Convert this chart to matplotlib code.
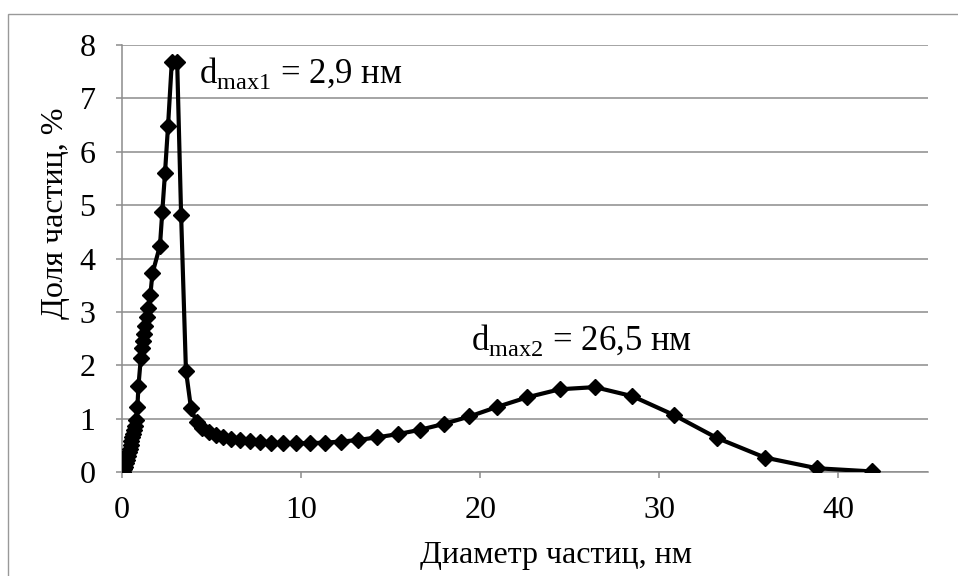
import matplotlib
matplotlib.use('Agg')
import matplotlib.pyplot as plt
from matplotlib.patches import Rectangle

plt.rcParams['font.family'] = ['Liberation Serif', 'DejaVu Serif']
plt.rcParams['mathtext.fontset'] = 'custom'
plt.rcParams['mathtext.rm'] = 'Liberation Serif'

# particle size distribution
diam = [0.08, 0.13, 0.18, 0.23, 0.28, 0.33, 0.38, 0.43, 0.48, 0.53, 0.58, 0.63,
        0.68, 0.73, 0.78, 0.86, 0.92, 1.05, 1.12, 1.18, 1.24, 1.30, 1.37, 1.45,
        1.58, 1.70, 2.12, 2.25, 2.40, 2.57, 2.78, 3.08, 3.30, 3.57, 3.85, 4.16,
        4.49, 4.85, 5.24, 5.66, 6.11, 6.60, 7.13, 7.70, 8.32, 8.98, 9.70, 10.48,
        11.32, 12.22, 13.20, 14.26, 15.40, 16.63, 17.96, 19.40, 20.95, 22.63,
        24.44, 26.40, 28.50, 30.80, 33.20, 35.90, 38.80, 41.90]
share = [0.00, 0.05, 0.10, 0.16, 0.23, 0.30, 0.37, 0.44, 0.51, 0.58, 0.65, 0.72,
         0.79, 0.86, 0.97, 1.22, 1.62, 2.13, 2.32, 2.45, 2.58, 2.73, 2.90, 3.07,
         3.31, 3.72, 4.24, 4.88, 5.60, 6.48, 7.68, 7.68, 4.82, 1.90, 1.20, 0.93,
         0.82, 0.75, 0.70, 0.66, 0.62, 0.60, 0.58, 0.56, 0.55, 0.54, 0.54, 0.54,
         0.55, 0.57, 0.60, 0.65, 0.71, 0.79, 0.90, 1.04, 1.22, 1.40,
         1.55, 1.59, 1.42, 1.07, 0.64, 0.27, 0.07, 0.01]

x_ticks = [0, 10, 20, 30, 40]
y_ticks = [0, 1, 2, 3, 4, 5, 6, 7, 8]

grid_c = '#8c8c8c'
fs = 23
fs_note = 25

fig = plt.figure(figsize=(9.58, 5.76), dpi=100)
ax = fig.add_axes([122 / 958, 1 - 472 / 576, (928 - 122) / 958, (472 - 45) / 576])

ax.plot(diam, share, color='black', linewidth=3.0, marker='D', markersize=8.5,
        markerfacecolor='black', markeredgecolor='black', zorder=3)

ax.set_xlim(0, 45)
ax.set_ylim(0, 8)
ax.set_xticks(x_ticks)
ax.set_yticks(y_ticks)
ax.yaxis.grid(True, color=grid_c, linewidth=1.1)
ax.set_axisbelow(True)
for s in ('top', 'right'):
    ax.spines[s].set_visible(False)
for s in ('left', 'bottom'):
    ax.spines[s].set_color(grid_c)
    ax.spines[s].set_linewidth(1.1)
ax.tick_params(axis='both', direction='out', length=4, width=1.1, color=grid_c,
               labelsize=fs)
ax.tick_params(axis='x', pad=13)
ax.tick_params(axis='y', pad=15)

ax.text(4.3, 7.28, r'd$_{\mathrm{max1}}$ = 2,9 нм', fontsize=fs_note,
        ha='left', va='baseline')
ax.text(19.5, 2.29, r'd$_{\mathrm{max2}}$ = 26,5 нм', fontsize=fs_note,
        ha='left', va='baseline')

fig.text(556 / 958, 0.022, 'Диаметр частиц, нм', fontsize=fs,
         ha='center', va='baseline')
fig.text(55 / 958, 1 - 213 / 576, 'Доля частиц, %', fontsize=fs,
         rotation=90, ha='center', va='center')

# outer chart frame (cut off on the right and bottom in the source)
fig.patches.append(Rectangle((8 / 958, -0.2), 1.2, 1.2 - 14 / 576,
                             transform=fig.transFigure, fill=False,
                             edgecolor='#999999', linewidth=1.0))

fig.savefig('out.png', dpi=100)
